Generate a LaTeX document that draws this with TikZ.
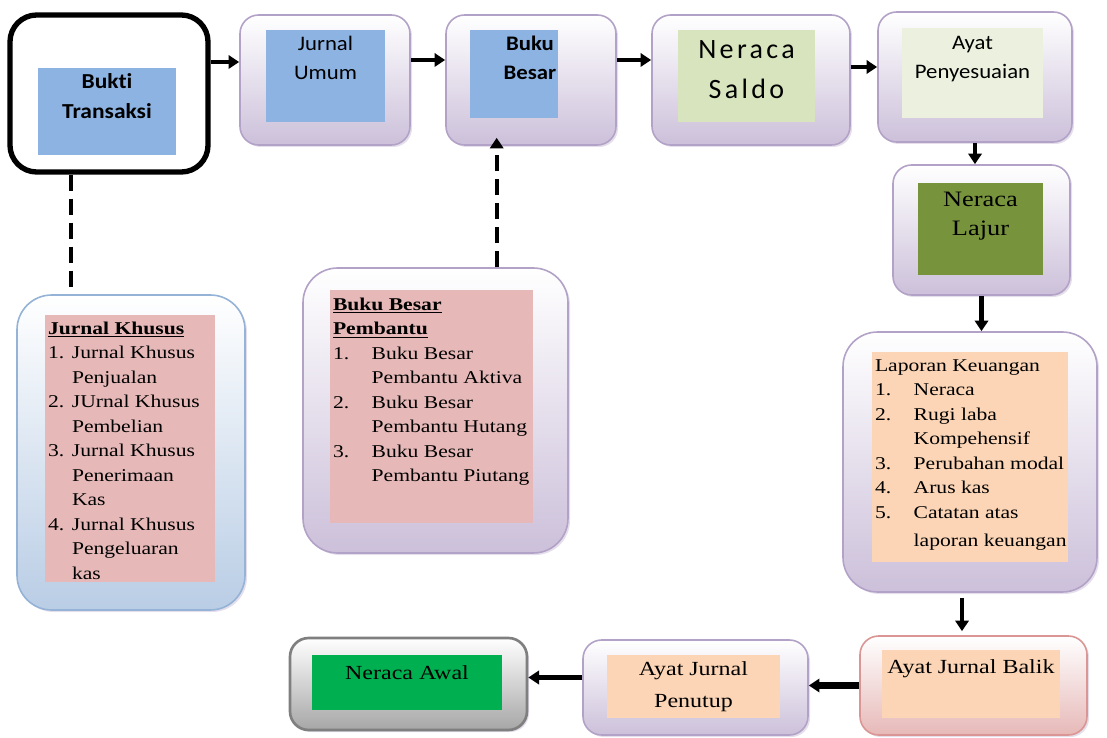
\documentclass[tikz,border=0pt]{standalone}
\usepackage{fontspec}
\setmainfont{Liberation Serif}
\newfontfamily\serifW[FakeStretch=1.2]{Liberation Serif}
\newfontfamily\sansW[FakeStretch=1.1,Ligatures=CommonOff]{Carlito}
\newfontfamily\sansX[LetterSpace=12]{Carlito}
\usepackage{tikz}
\usetikzlibrary{calc,fit,positioning,arrows.meta,shadows}

\definecolor{lavFill}{HTML}{CCC0DA}
\definecolor{lavLine}{HTML}{B3A2C7}
\definecolor{skyFill}{HTML}{B9CDE5}
\definecolor{skyLine}{HTML}{95B3D7}
\definecolor{roseFill}{HTML}{E6B9B8}
\definecolor{roseLine}{HTML}{D99694}
\definecolor{greyFill}{HTML}{A6A6A6}
\definecolor{greyLine}{HTML}{7F7F7F}
\definecolor{panelBlue}{HTML}{8DB3E2}
\definecolor{panelSage}{HTML}{D7E4BD}
\definecolor{panelMint}{HTML}{EBF1DE}
\definecolor{panelOlive}{HTML}{77933C}
\definecolor{panelRose}{HTML}{E6B9B8}
\definecolor{panelPeach}{HTML}{FBD5B5}
\definecolor{panelGreen}{HTML}{00B050}

\tikzset{
  box/.style={draw=lavLine, line width=1.2pt, rounded corners=14pt, top color=white,
    bottom color=lavFill, inner sep=0pt,
    drop shadow={shadow xshift=1.5pt, shadow yshift=-1.5pt, opacity=0.35, fill=lavLine}},
  panel/.style={inner sep=0pt},
  txt/.style={inner sep=0pt, anchor=north, align=center},
  listtxt/.style={inner sep=0pt, anchor=north west, align=left, font=\serifW\fontsize{13.5}{18.4}\selectfont},
  arr/.style={-{Triangle[length=8pt,width=10pt]}, line width=3.5pt},
  dashline/.style={line width=3pt, dash pattern=on 12pt off 6pt},
}

\begin{document}
\begin{tikzpicture}[x=0.75pt,y=-0.75pt]
\useasboundingbox (0,0) rectangle (1107,738);

% top row
\node[draw=black, line width=4pt, fill=white, rounded corners=20pt, inner sep=0pt,
  fit={(10,15) (208,172)}] (bt) {};
\node[panel, fill=panelBlue, fit={(38,68) (176,155)}] (btIn) {};
\node[box, fit={(240,15) (410,145)}] (ju) {};
\node[panel, fill=panelBlue, fit={(266,30) (385,122)}] (juIn) {};
\node[box, fit={(446,15) (616,145)}] (bb) {};
\node[panel, fill=panelBlue, fit={(470,30) (558,118)}] (bbIn) {};
\node[box, fit={(652,15) (850,145)}] (ns) {};
\node[panel, fill=panelSage, fit={(678,30) (815,122)}] (nsIn) {};
\node[box, fit={(878,12) (1072,142)}] (ap) {};
\node[panel, fill=panelMint, fit={(902,28) (1043,118)}] (apIn) {};

% right column
\node[box, fit={(893,165) (1070,295)}] (nl) {};
\node[panel, fill=panelOlive, fit={(918,183) (1043,275)}] (nlIn) {};
\node[box, rounded corners=26pt, fit={(843,332) (1097,592)}] (lk) {};
\node[panel, fill=panelPeach, fit={(872,352) (1068,562)}] (lkIn) {};

% bottom row
\node[box, draw=roseLine, bottom color=roseFill, fit={(860,636) (1087,735)}] (ajb) {};
\node[panel, fill=panelPeach, fit={(882,650) (1060,718)}] (ajbIn) {};
\node[box, fit={(583,640) (808,735)}] (ajp) {};
\node[panel, fill=panelPeach, fit={(607,655) (780,718)}] (ajpIn) {};
\node[box, draw=greyLine, line width=2pt, bottom color=greyFill, fit={(290,638) (527,730)}] (na) {};
\node[panel, fill=panelGreen, fit={(312,655) (502,710)}] (naIn) {};

% side lists
\node[box, draw=skyLine, bottom color=skyFill, rounded corners=26pt, fit={(17,295) (245,610)}] (jk) {};
\node[panel, fill=panelRose, fit={(45,315) (215,582)}] (jkIn) {};
\node[box, rounded corners=26pt, fit={(303,268) (568,553)}] (bbp) {};
\node[panel, fill=panelRose, fit={(330,290) (533,523)}] (bbpIn) {};

% texts
\node[txt, font=\sansW\bfseries\fontsize{16}{22}\selectfont] (btText) at ($(btIn.north)+(0,6)$) {Bukti\\Transaksi};
\node[txt, font=\sansW\fontsize{15.5}{22}\selectfont] (juText) at ($(juIn.north)+(0,6)$) {Jurnal\\Umum};
\node[txt, font=\sansW\bfseries\fontsize{15.5}{22}\selectfont] (bbText) at ($(bbIn.north)+(16,6)$) {Buku\\Besar};
\node[txt, font=\sansX\fontsize{21}{30}\selectfont] (nsText) at ($(nsIn.north)+(0,11)$) {Neraca\\Saldo};
\node[txt, font=\sansW\fontsize{15.5}{22}\selectfont] (apText) at ($(apIn.north)+(0,8)$) {Ayat\\Penyesuaian};
\node[txt, font=\serifW\fontsize{16.5}{22}\selectfont] (nlText) at ($(nlIn.north)+(0,9)$) {Neraca\\Lajur};
\node[txt, font=\serifW\fontsize{15}{24}\selectfont] (ajbText) at ($(ajbIn.north)+(0,10)$) {Ayat Jurnal Balik};
\node[txt, font=\serifW\fontsize{15}{24}\selectfont] (ajpText) at ($(ajpIn.north)+(0,7)$) {Ayat Jurnal\\Penutup};
\node[txt, font=\serifW\fontsize{15}{24}\selectfont] (naText) at ($(naIn.north)+(0,11)$) {Neraca Awal};

\node[listtxt] (jkText) at ($(jkIn.north west)+(3,2)$) {%
\begin{tabular}{@{}p{18pt}@{}l@{}}
\multicolumn{2}{@{}l@{}}{\underline{\textbf{Jurnal Khusus}}}\\
1. & Jurnal Khusus\\
   & Penjualan\\
2. & JUrnal Khusus\\
   & Pembelian\\
3. & Jurnal Khusus\\
   & Penerimaan\\
   & Kas\\
4. & Jurnal Khusus\\
   & Pengeluaran\\
   & kas
\end{tabular}};
\node[listtxt] (bbpText) at ($(bbpIn.north west)+(3,3)$) {%
\begin{tabular}{@{}p{29pt}@{}l@{}}
\multicolumn{2}{@{}l@{}}{\underline{\textbf{Buku Besar}}}\\
\multicolumn{2}{@{}l@{}}{\underline{\textbf{Pembantu}}}\\
1. & Buku Besar\\
   & Pembantu Aktiva\\
2. & Buku Besar\\
   & Pembantu Hutang\\
3. & Buku Besar\\
   & Pembantu Piutang
\end{tabular}};
\node[listtxt] (lkText) at ($(lkIn.north west)+(3,2)$) {%
\begin{tabular}{@{}p{29pt}@{}l@{}}
\multicolumn{2}{@{}l@{}}{Laporan Keuangan}\\
1. & Neraca\\
2. & Rugi laba\\
   & Kompehensif\\
3. & Perubahan modal\\
4. & Arus kas\\
5. & Catatan atas\\[3pt]
   & laporan keuangan
\end{tabular}};

% connectors
\draw[arr] ([yshift=13.5pt]ju.west -| bt.east) -- ([yshift=13.5pt]ju.west);
\draw[arr] ([yshift=15pt]ju.east) -- ([yshift=15pt]ju.east -| bb.west);
\draw[arr] ([yshift=15pt]bb.east) -- ([yshift=15pt]bb.east -| ns.west);
\draw[arr] ([yshift=9.75pt]ns.east) -- ([yshift=9.75pt]ns.east -| ap.west);
\draw[arr] (ap.south) -- (ap.south |- nl.north);
\draw[arr] (nl.south) -- (nl.south |- lk.north);
\draw[arr, shorten <=4pt, shorten >=3pt] ([xshift=-6pt]lk.south) -- ([xshift=-6pt]lk.south |- ajb.north);
\draw[arr, line width=5pt] (ajb.west) -- (ajb.west -| ajp.east);
\draw[arr, line width=4pt] ([yshift=7.5pt]ajp.west) -- ([yshift=7.5pt]ajp.west -| na.east);

\coordinate (dTop) at ($(bt.south west)!0.315!(bt.south east)$);
\draw[dashline] (dTop) -- (dTop |- jk.north);
\coordinate (dUp) at ($(bb.south west)!0.3!(bb.south east)$);
\draw[dashline, -{Triangle[length=8pt,width=10pt]}] (dUp |- bbp.north) -- ([yshift=6pt]dUp);
\end{tikzpicture}
\end{document}
